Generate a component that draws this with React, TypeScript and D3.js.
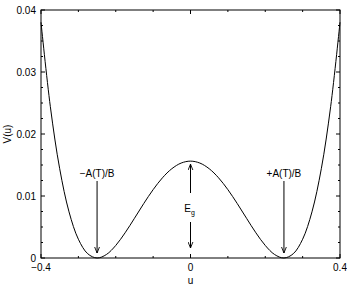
import React from "react";
import * as d3 from "d3";

const uValues = [
  -0.4, -0.375, -0.35, -0.325, -0.3, -0.275, -0.25, -0.225, -0.2, -0.175, -0.15, -0.125, -0.1, -0.075, -0.05, -0.025,
  0, 0.025, 0.05, 0.075, 0.1, 0.125, 0.15, 0.175, 0.2, 0.225, 0.25, 0.275, 0.3, 0.325, 0.35, 0.375, 0.4,
];
const vValues = [
  0.03802, 0.02441, 0.0144, 0.00744, 0.003025, 0.000689, 0, 0.000564, 0.002025, 0.004064, 0.0064, 0.008789, 0.011025, 0.012939, 0.0144, 0.015314,
  0.015625, 0.015314, 0.0144, 0.012939, 0.011025, 0.008789, 0.0064, 0.004064, 0.002025, 0.000564, 0, 0.000689, 0.003025, 0.00744, 0.0144, 0.02441, 0.03802,
];
const xMajorTicks = [-0.4, 0, 0.4];
const xTickLabels = ["\u22120.4", "0", "0.4"];
const xMinorTicks = [-0.3, -0.2, -0.1, 0.1, 0.2, 0.3];
const yMajorTicks = [0, 0.01, 0.02, 0.03, 0.04];
const yTickLabels = ["0", "0.01", "0.02", "0.03", "0.04"];
const yMinorStep = 0.0025;
const minimaU = [-0.25, 0.25];
const minimaLabels = ["\u2212A(T)/B", "+A(T)/B"];

export default function App() {
  const W = 347, H = 285;
  const L = 41, R = 340, T = 10, B = 258;
  const x = d3.scaleLinear().domain([-0.4, 0.4]).range([L, R]);
  const y = d3.scaleLinear().domain([0, 0.04]).range([B, T]);
  const pts = uValues.map((u, i) => [u, vValues[i]] as [number, number]);
  const line = d3.line<[number, number]>().x(d => x(d[0])).y(d => y(d[1])).curve(d3.curveCatmullRom.alpha(0.5));
  const yMinor = d3.range(0, 0.04 + 1e-9, yMinorStep).filter(v => Math.abs(v / 0.01 - Math.round(v / 0.01)) > 1e-6);
  const font = "Liberation Sans, Arial, Helvetica, sans-serif";
  const peak = vValues[uValues.indexOf(0)];
  return (
    <svg width={W} height={H} style={{ position: "absolute", left: 0, top: 0, background: "#fff" }} fontFamily={font}>
      <rect x={0} y={0} width={W} height={H} fill="#fff" />
      <path d={line(pts) || ""} fill="none" stroke="#000" strokeWidth={1} />
      <rect x={L} y={T} width={R - L} height={B - T} fill="none" stroke="#000" strokeWidth={1} />
      {xMajorTicks.map(t => (
        <g key={"xm" + t}>
          <line x1={x(t)} x2={x(t)} y1={B} y2={B - 4} stroke="#000" />
          <line x1={x(t)} x2={x(t)} y1={T} y2={T + 4} stroke="#000" />
        </g>
      ))}
      {xMinorTicks.map(t => (
        <g key={"xn" + t}>
          <line x1={x(t)} x2={x(t)} y1={B} y2={B - 2} stroke="#000" />
          <line x1={x(t)} x2={x(t)} y1={T} y2={T + 2} stroke="#000" />
        </g>
      ))}
      {yMajorTicks.map(t => (
        <g key={"ym" + t}>
          <line x1={L} x2={L + 4} y1={y(t)} y2={y(t)} stroke="#000" />
          <line x1={R} x2={R - 4} y1={y(t)} y2={y(t)} stroke="#000" />
        </g>
      ))}
      {yMinor.map(t => (
        <g key={"yn" + t}>
          <line x1={L} x2={L + 2} y1={y(t)} y2={y(t)} stroke="#000" />
          <line x1={R} x2={R - 2} y1={y(t)} y2={y(t)} stroke="#000" />
        </g>
      ))}
      {xMajorTicks.map((t, i) => (
        <text key={"xl" + t} x={x(t)} y={B + 13} fontSize={10} textAnchor="middle">{xTickLabels[i]}</text>
      ))}
      {yMajorTicks.map((t, i) => (
        <text key={"yl" + t} x={L - 5} y={y(t) + 3.5} fontSize={10} textAnchor="end">{yTickLabels[i]}</text>
      ))}
      <text x={x(0)} y={284} fontSize={10} textAnchor="middle">u</text>
      <text transform={`translate(11,${(T + B) / 2}) rotate(-90)`} fontSize={10} textAnchor="middle">V(u)</text>
      <defs>
        <marker id="ah" viewBox="0 0 10 10" refX={10} refY={5} markerWidth={6} markerHeight={6} orient="auto">
          <path d="M0,1 L10,5 L0,9" fill="none" stroke="#000" strokeWidth={1.5} />
        </marker>
      </defs>
      {minimaU.map((u, i) => (
        <g key={"min" + u}>
          <text x={x(u)} y={177} fontSize={10} textAnchor="middle">{minimaLabels[i]}</text>
          <line x1={x(u)} x2={x(u)} y1={181} y2={y(0) - 5} stroke="#000" markerEnd="url(#ah)" />
        </g>
      ))}
      <line x1={x(0)} x2={x(0)} y1={193} y2={y(peak) + 3} stroke="#000" markerEnd="url(#ah)" />
      <text x={x(0) - 1} y={212} fontSize={10} textAnchor="middle">E<tspan fontSize={7} dy={3}>g</tspan></text>
      <line x1={x(0)} x2={x(0)} y1={222} y2={y(0) - 10} stroke="#000" markerEnd="url(#ah)" />
    </svg>
  );
}
